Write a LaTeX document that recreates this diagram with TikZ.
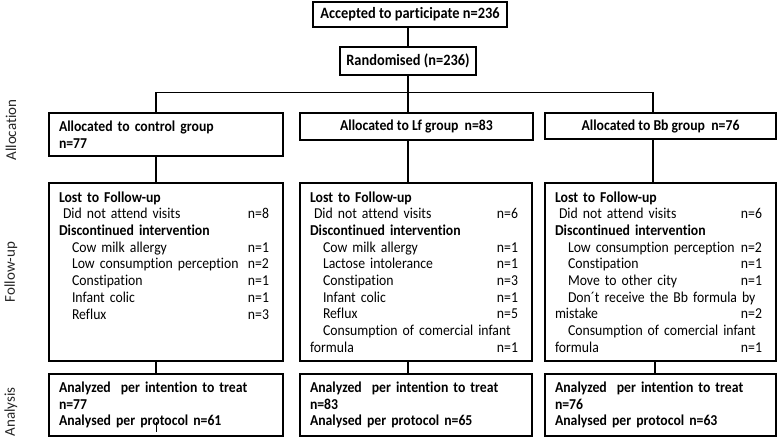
\documentclass[tikz,border=0pt]{standalone}
\usepackage{fontspec}
\setmainfont[FakeStretch=0.91, Ligatures=NoCommon]{Carlito}
\newfontfamily\phasefont[Ligatures=NoCommon]{Carlito}
\usetikzlibrary{positioning}

\newcommand{\boxfont}{\fontsize{15.1}{16.7}\selectfont}
\newcommand{\nval}[1]{\hfill#1\kern4pt}
\newcommand{\subi}{\hspace*{13pt}}

\tikzset{
  flowbox/.style={draw, line width=2.6pt, inner sep=0pt, font=\boxfont},
  leftbox/.style={flowbox, align=left, inner xsep=10pt},
  link/.style={line width=1.5pt},
  phase/.style={rotate=90, font=\phasefont\fontsize{15}{18}\selectfont, text=black!85},
}

\begin{document}
\begin{tikzpicture}[x=1pt,y=-1pt]
\useasboundingbox (0,0) rectangle (779,445);

\node [flowbox, minimum width=194pt, minimum height=25pt, font=\fontsize{15.8}{17}\selectfont] (accepted) at (410,14.5) {\textbf{Accepted to participate n=236}};
\node [flowbox, minimum width=136pt, minimum height=28pt, font=\fontsize{15.8}{17}\selectfont] (rand) at (408,61) {\textbf{Randomised (n=236)}};

% allocation
\node [leftbox, text width=214pt, minimum width=234pt, minimum height=43pt] (allocC) at (166,134.5) {\textbf{Allocated to control group}\\\textbf{n=77}};
\node [flowbox, minimum width=233pt, minimum height=27pt] (allocL) at (416.5,126.5) {\textbf{Allocated to Lf group\ \ n=83}};
\node [flowbox, minimum width=231pt, minimum height=26pt] (allocB) at (660.5,126) {\textbf{Allocated to Bb group\ \ n=76}};

% follow-up
\node [leftbox, text width=214pt, minimum width=234pt, minimum height=178pt] (fupC) at (166,272) {%
\textbf{Lost to Follow-up}\\
\hspace*{4pt}Did not attend visits\nval{n=8}\\
\textbf{Discontinued intervention}\\
\subi Cow milk allergy\nval{n=1}\\
\subi Low consumption perception\nval{n=2}\\
\subi Constipation\nval{n=1}\\
\subi Infant colic\nval{n=1}\\
\subi Reflux\nval{n=3}\\
\mbox{}\\
\mbox{}};
\node [leftbox, text width=212pt, minimum width=232pt, minimum height=178pt] (fupL) at (416,272) {%
\textbf{Lost to Follow-up}\\
\hspace*{4pt}Did not attend visits\nval{n=6}\\
\textbf{Discontinued intervention}\\
\subi Cow milk allergy\nval{n=1}\\
\subi Lactose intolerance\nval{n=1}\\
\subi Constipation\nval{n=3}\\
\subi Infant colic\nval{n=1}\\
\subi Reflux\nval{n=5}\\
\subi Consumption of comercial infant\\
formula\nval{n=1}};
\node [leftbox, text width=211pt, minimum width=231pt, minimum height=178pt] (fupB) at (660.5,272) {%
\textbf{Lost to Follow-up}\\
\hspace*{4pt}Did not attend visits\nval{n=6}\\
\textbf{Discontinued intervention}\\
\subi Low consumption perception\nval{n=2}\\
\subi Constipation\nval{n=1}\\
\subi Move to other city\nval{n=1}\\
\subi Don´t receive the Bb formula by\\
mistake\nval{n=2}\\
\subi Consumption of comercial infant\\
formula\nval{n=1}};

% analysis
\node [leftbox, text width=214pt, minimum width=234pt, minimum height=62pt] (anaC) at (166,405) {\textbf{Analyzed\ \ per intention to treat}\\\textbf{n=77}\\\textbf{Analysed per protocol n=61}};
\node [leftbox, text width=212pt, minimum width=232pt, minimum height=62pt] (anaL) at (416,405) {\textbf{Analyzed\ \ per intention to treat}\\\textbf{n=83}\\\textbf{Analysed per protocol n=65}};
\node [leftbox, text width=211pt, minimum width=231pt, minimum height=62pt] (anaB) at (660.5,405) {\textbf{Analyzed\ \ per intention to treat}\\\textbf{n=76}\\\textbf{Analysed per protocol n=63}};

% phase labels
\node [phase] (phAlloc) at (11,130) {Allocation};
\node [phase] (phFup) at (11,272) {Follow-up};
\node [phase] (phAna) at (11,412) {Analysis};

% connectors
\coordinate (busL) at (156,92);
\coordinate (busR) at (653,92);
\draw [link] (accepted.south -| rand.south) -- (rand);
\draw [link] (rand.south) -- (rand.south |- busL);
\draw [line width=1pt] (busL) -- (busR);
\draw [link] (busL) -- (busL |- allocC.north);
\draw [link] (rand.south |- busL) -- (rand.south |- allocL.north);
\draw [link] (busR) -- (busR |- allocB.north);

\draw [link] (busL |- allocC.south) -- (busL |- fupC.north);
\draw [link] (rand.south |- allocL.south) -- (rand.south |- fupL.north);
\draw [link] (busR |- allocB.south) -- (busR |- fupB.north);

\draw [link] (busL |- fupC.south) -- (busL |- anaC.north);
\draw [link] (rand.south |- fupL.south) -- (rand.south |- anaL.north);
\draw [link] ([xshift=2pt]busR |- fupB.south) -- ([xshift=2pt]busR |- anaB.north);
\draw [line width=1pt] ([yshift=15pt]busL |- anaC.south) -- ([yshift=5pt]busL |- anaC.south);
\end{tikzpicture}
\end{document}
